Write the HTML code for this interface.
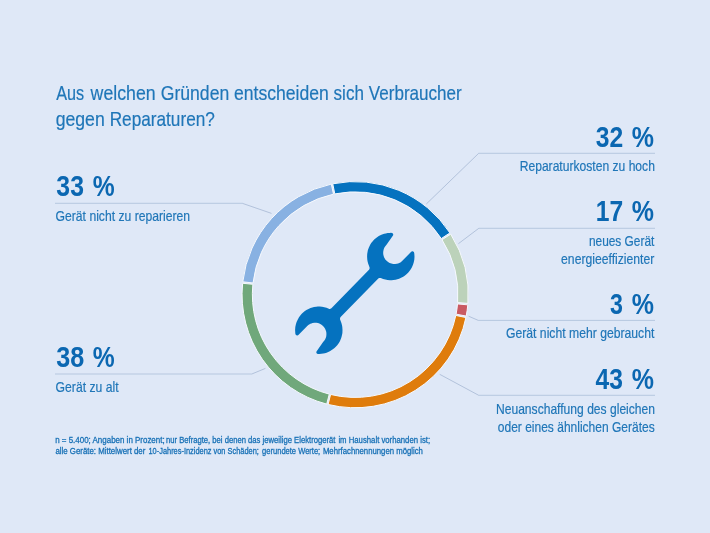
<!DOCTYPE html>
<html lang="de"><head><meta charset="utf-8">
<title>Aus welchen Gründen entscheiden sich Verbraucher gegen Reparaturen?</title>
<style>
html,body{margin:0;padding:0;background:#dfe8f7;}
body{width:710px;height:533px;overflow:hidden;}
svg{display:block;font-family:"Liberation Sans","DejaVu Sans",sans-serif;}
</style></head><body>
<svg width="710" height="533" viewBox="0 0 710 533" role="img">
<rect width="710" height="533" fill="#dfe8f7"/>
<!-- headline -->
<g class="title" font-size="21" fill="#1f76b8" stroke="#1f76b8" stroke-width="0.2">
<text x="56.30" y="100" textLength="27.93" lengthAdjust="spacingAndGlyphs">Aus</text>
<text x="90.60" y="100" textLength="65.01" lengthAdjust="spacingAndGlyphs">welchen</text>
<text x="160.76" y="100" textLength="68.47" lengthAdjust="spacingAndGlyphs">Gründen</text>
<text x="234.07" y="100" textLength="94.79" lengthAdjust="spacingAndGlyphs">entscheiden</text>
<text x="333.59" y="100" textLength="30.31" lengthAdjust="spacingAndGlyphs">sich</text>
<text x="368.80" y="100" textLength="92.93" lengthAdjust="spacingAndGlyphs">Verbraucher</text>
<text x="55.67" y="126" textLength="49.10" lengthAdjust="spacingAndGlyphs">gegen</text>
<text x="109.67" y="126" textLength="105.18" lengthAdjust="spacingAndGlyphs">Reparaturen?</text>
</g>
<!-- leader lines -->
<g fill="none" stroke="#b6c7df" stroke-width="1"><path d="M655 153.3L478.7 153.3"/><path d="M655 228.3L478.8 228.3"/><path d="M655 320.4L478.3 320.4"/><path d="M655 395.3L478.7 395.3"/><path d="M55 203.3L242.3 203.3"/><path d="M55 374.0L251.8 374.0"/></g><g fill="none" stroke="#93a8c8" stroke-width="0.6"><path d="M478.7 153.3L426.3 204.0"/><path d="M478.8 228.3L458.4 243.7"/><path d="M478.3 320.4L468.6 316.2"/><path d="M478.7 395.3L439.7 374.3"/><path d="M242.3 203.3L271.5 213.4"/><path d="M251.8 374.0L265.4 368.4"/></g>
<!-- donut ring -->
<g class="ring">
<path d="M332.75 183.79A113.1 113.1 0 0 1 449.92 232.93L441.29 238.55A102.8 102.8 0 0 0 334.79 193.89Z" fill="#0572bf" stroke="#f6f9fe" stroke-width="1"/>
<path d="M450.72 234.17A113.1 113.1 0 0 1 467.91 303.38L457.64 302.58A102.8 102.8 0 0 0 442.02 239.68Z" fill="#bcd2ba" stroke="#f6f9fe" stroke-width="1"/>
<path d="M467.79 304.85A113.1 113.1 0 0 1 466.20 316.09L456.09 314.13A102.8 102.8 0 0 0 457.53 303.92Z" fill="#c95a62" stroke="#f6f9fe" stroke-width="1"/>
<path d="M465.91 317.54A113.1 113.1 0 0 1 328.12 404.47L330.59 394.47A102.8 102.8 0 0 0 455.82 315.45Z" fill="#df7c0c" stroke="#f6f9fe" stroke-width="1"/>
<path d="M326.69 404.11A113.1 113.1 0 0 1 242.62 283.27L252.87 284.31A102.8 102.8 0 0 0 329.28 394.14Z" fill="#70a87b" stroke="#f6f9fe" stroke-width="1"/>
<path d="M242.78 281.80A113.1 113.1 0 0 1 331.30 184.09L333.47 194.16A102.8 102.8 0 0 0 253.02 282.97Z" fill="#88b1e2" stroke="#f6f9fe" stroke-width="1"/>
</g>
<!-- wrench icon -->
<path d="M323.1 342.1L316.5 351.5L316.4 351.9L316.3 352.3L316.4 352.8L316.6 353.2L316.9 353.5L317.3 353.7L317.7 353.9L319.2 354.0L321.4 353.8L323.2 353.6L324.9 353.2L326.6 352.7L328.2 352.0L329.8 351.3L331.7 350.1L333.2 349.1L334.5 348.0L335.8 346.8L337.0 345.5L338.0 344.2L339.0 342.7L339.9 341.2L340.6 339.6L341.2 338.0L341.7 336.3L342.1 334.6L342.4 332.9L342.5 330.0L342.3 327.1L342.0 325.3L341.4 323.1L340.0 319.3L340.0 318.4L340.3 317.6L340.6 317.1L378.3 278.5L378.7 278.2L379.3 278.0L380.2 277.9L380.8 278.1L383.1 279.0L385.3 279.6L387.6 280.0L389.9 280.2L391.7 280.2L393.4 280.1L395.6 279.7L397.3 279.3L399.1 278.7L401.1 277.8L403.2 276.7L404.7 275.7L406.5 274.3L408.1 272.7L409.3 271.3L410.6 269.5L411.8 267.4L413.0 264.8L413.7 262.6L414.3 259.7L414.5 256.8L414.4 255.1L414.3 253.4L414.1 252.7L414.0 252.2L413.6 251.8L413.1 251.5L412.6 251.3L412.2 251.3L411.7 251.5L411.2 251.8L402.6 260.6L401.3 261.8L400.4 262.4L399.2 263.0L398.1 263.4L396.9 263.8L395.1 264.0L393.2 264.0L391.4 263.6L389.6 262.9L388.1 262.1L386.6 260.8L385.3 259.4L384.3 257.7L383.9 256.7L383.6 255.7L383.3 254.6L383.2 253.5L383.2 252.4L383.3 251.3L383.5 250.2L383.8 249.1L384.3 247.8L385.1 246.4L386.5 244.7L393.0 235.5L393.2 234.9L393.2 234.2L392.9 233.6L392.5 233.2L391.9 232.9L391.1 232.8L389.3 232.9L387.6 233.1L385.9 233.4L384.2 233.8L381.4 234.8L378.8 236.1L376.4 237.7L374.2 239.6L372.3 241.7L371.2 243.1L370.3 244.6L369.0 247.2L368.4 248.8L367.8 250.5L367.5 252.2L367.2 253.9L367.1 256.8L367.3 259.7L367.6 261.5L368.2 263.7L369.6 267.5L369.6 268.4L369.3 269.2L369.0 269.7L331.4 308.2L330.9 308.6L330.4 308.8L330.0 308.9L329.4 308.9L328.8 308.7L326.5 307.8L324.3 307.2L322.0 306.8L319.7 306.6L317.9 306.6L316.2 306.7L314.0 307.1L312.3 307.5L310.5 308.1L308.5 309.0L306.4 310.1L304.9 311.1L303.1 312.5L301.5 314.1L300.3 315.5L299.0 317.3L297.8 319.4L296.6 322.0L295.9 324.2L295.3 327.1L295.1 330.0L295.2 331.7L295.3 333.4L295.5 334.1L295.6 334.6L296.0 335.0L296.5 335.3L297.0 335.5L297.4 335.5L298.0 335.3L298.4 335.0L307.0 326.2L308.3 325.1L309.2 324.4L310.4 323.8L311.4 323.4L312.5 323.1L314.5 322.8L316.3 322.8L318.0 323.1L319.9 323.8L321.5 324.7L323.0 325.9L324.1 327.2L325.1 328.8L325.6 329.9L326.0 331.1L326.3 332.2L326.4 333.4L326.4 334.5L326.3 335.8L326.1 337.0L325.7 338.0L325.2 339.3L324.4 340.5Z" fill="#0572bf"/>
<!-- percentages and captions -->
<g class="values" font-size="29.3" font-weight="700" fill="#0b67b1">
<text x="56.37" y="196" textLength="27.55" lengthAdjust="spacingAndGlyphs">33</text>
<text x="92.77" y="196" textLength="21.91" lengthAdjust="spacingAndGlyphs">%</text>
<text x="56.36" y="367" textLength="27.97" lengthAdjust="spacingAndGlyphs">38</text>
<text x="92.77" y="367" textLength="21.91" lengthAdjust="spacingAndGlyphs">%</text>
<text x="595.67" y="147" textLength="27.45" lengthAdjust="spacingAndGlyphs">32</text>
<text x="631.66" y="147" textLength="22.23" lengthAdjust="spacingAndGlyphs">%</text>
<text x="595.73" y="221" textLength="27.39" lengthAdjust="spacingAndGlyphs">17</text>
<text x="631.66" y="221" textLength="22.23" lengthAdjust="spacingAndGlyphs">%</text>
<text x="610.11" y="314" textLength="12.93" lengthAdjust="spacingAndGlyphs">3</text>
<text x="631.66" y="314" textLength="22.23" lengthAdjust="spacingAndGlyphs">%</text>
<text x="595.49" y="389" textLength="27.42" lengthAdjust="spacingAndGlyphs">43</text>
<text x="631.66" y="389" textLength="22.23" lengthAdjust="spacingAndGlyphs">%</text>
</g>
<g class="captions" font-size="15.0" fill="#1f76b8" stroke="#1f76b8" stroke-width="0.2">
<text x="55.59" y="221" textLength="134.56" lengthAdjust="spacingAndGlyphs">Gerät nicht zu reparieren</text>
<text x="55.59" y="392" textLength="62.95" lengthAdjust="spacingAndGlyphs">Gerät zu alt</text>
<text x="519.69" y="171" textLength="135.20" lengthAdjust="spacingAndGlyphs">Reparaturkosten zu hoch</text>
<text x="588.91" y="246" textLength="65.44" lengthAdjust="spacingAndGlyphs">neues Gerät</text>
<text x="561.09" y="264" textLength="93.26" lengthAdjust="spacingAndGlyphs">energieeffizienter</text>
<text x="505.99" y="338" textLength="148.39" lengthAdjust="spacingAndGlyphs">Gerät nicht mehr gebraucht</text>
<text x="495.99" y="414" textLength="159.01" lengthAdjust="spacingAndGlyphs">Neuanschaffung des gleichen</text>
<text x="497.80" y="432" textLength="156.88" lengthAdjust="spacingAndGlyphs">oder eines ähnlichen Gerätes</text>
</g>
<!-- footnote -->
<g class="footnote" font-size="9.4" fill="#1670b6" stroke="#1670b6" stroke-width="0.3">
<text x="55.18" y="443" textLength="109.47" lengthAdjust="spacingAndGlyphs">n = 5.400; Angaben in Prozent;</text>
<text x="166.09" y="443" textLength="79.81" lengthAdjust="spacingAndGlyphs">nur Befragte, bei denen</text>
<text x="248.10" y="443" textLength="87.38" lengthAdjust="spacingAndGlyphs">das jeweilige Elektrogerät</text>
<text x="338.39" y="443" textLength="91.73" lengthAdjust="spacingAndGlyphs">im Haushalt vorhanden ist;</text>
<text x="55.39" y="454" textLength="89.99" lengthAdjust="spacingAndGlyphs">alle Geräte: Mittelwert der</text>
<text x="148.51" y="454" textLength="110.33" lengthAdjust="spacingAndGlyphs">10-Jahres-Inzidenz von Schäden;</text>
<text x="262.10" y="454" textLength="58.13" lengthAdjust="spacingAndGlyphs">gerundete Werte;</text>
<text x="322.88" y="454" textLength="100.07" lengthAdjust="spacingAndGlyphs">Mehrfachnennungen möglich</text>
</g>
</svg>
</body></html>
